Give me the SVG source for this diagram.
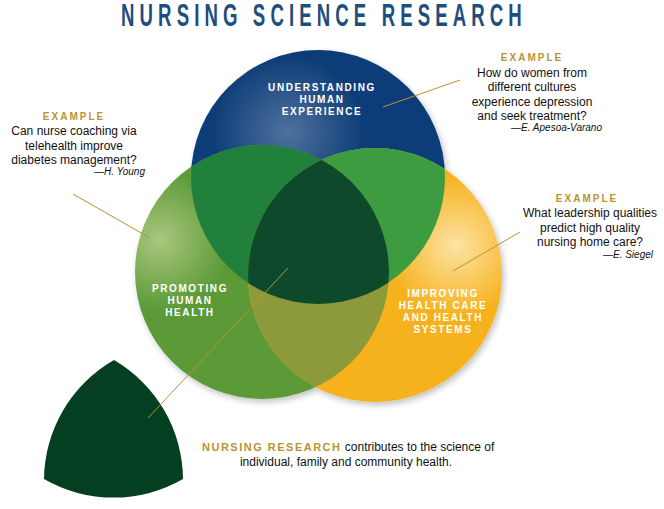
<svg xmlns="http://www.w3.org/2000/svg" width="664" height="509" viewBox="0 0 664 509">
<style>
.ex{font-family:"Liberation Sans",Arial,sans-serif;font-weight:bold;font-size:10px;letter-spacing:2px;fill:#b8952e;text-anchor:middle}
.q{font-family:"Liberation Sans",Arial,sans-serif;font-size:12px;fill:#111;text-anchor:middle}
.by{font-family:"Liberation Sans",Arial,sans-serif;font-size:10px;font-style:italic;fill:#111;text-anchor:end}
.lab{font-family:"Liberation Sans",Arial,sans-serif;font-weight:bold;font-size:10px;letter-spacing:1.6px;fill:#fff;text-anchor:middle}
.con{stroke:#b8952e;stroke-width:1;fill:none}
</style>
<defs>
<radialGradient id="gB" gradientUnits="userSpaceOnUse" cx="288" cy="132" r="75">
<stop offset="0" stop-color="#4f719d"/><stop offset="1" stop-color="#0f3e78"/></radialGradient>
<radialGradient id="gG" gradientUnits="userSpaceOnUse" cx="160" cy="240" r="70">
<stop offset="0" stop-color="#a9c77e"/><stop offset="1" stop-color="#5b9a37"/></radialGradient>
<radialGradient id="gY" gradientUnits="userSpaceOnUse" cx="456" cy="246" r="70">
<stop offset="0" stop-color="#fde3a6"/><stop offset="1" stop-color="#f6b21d"/></radialGradient>
<clipPath id="cB"><circle cx="318" cy="177" r="127"/></clipPath>
<clipPath id="cG"><circle cx="262" cy="272" r="127"/></clipPath>
<clipPath id="cY"><circle cx="375" cy="275" r="127"/></clipPath>
<filter id="sh" x="-20%" y="-20%" width="140%" height="140%"><feGaussianBlur in="SourceAlpha" stdDeviation="3"/><feOffset dx="2" dy="3"/><feComponentTransfer><feFuncA type="linear" slope="0.25"/></feComponentTransfer><feMerge><feMergeNode/><feMergeNode in="SourceGraphic"/></feMerge></filter>
</defs>
<rect width="664" height="509" fill="#fff"/>
<g transform="translate(121,26) scale(0.6,1)">
<text x="0" y="0" textLength="668" lengthAdjust="spacing" font-family="Liberation Sans,Arial,sans-serif" font-weight="bold" font-size="31" fill="#1d4e7d">NURSING SCIENCE RESEARCH</text>
</g>

<g id="venn" filter="url(#sh)">
<g id="node-understanding">
<circle cx="318" cy="177" r="127" fill="url(#gB)"/>
</g>
<g id="node-promoting">
<circle cx="262" cy="272" r="127" fill="url(#gG)"/>
</g>
<g id="node-improving">
<circle cx="375" cy="275" r="127" fill="url(#gY)"/>
</g>
<g id="overlaps">
<circle cx="318" cy="177" r="127" fill="#22803c" clip-path="url(#cG)"/>
<circle cx="318" cy="177" r="127" fill="#3d9b41" clip-path="url(#cY)"/>
<circle cx="262" cy="272" r="127" fill="#8d9a3b" clip-path="url(#cY)"/>
<g clip-path="url(#cY)"><circle cx="262" cy="272" r="127" fill="#0b4a29" clip-path="url(#cB)"/></g>
</g>
</g>
<text class="lab"><tspan x="322" y="91">UNDERSTANDING</tspan><tspan x="322" y="103">HUMAN</tspan><tspan x="322" y="115">EXPERIENCE</tspan></text>
<text class="lab"><tspan x="190" y="292">PROMOTING</tspan><tspan x="190" y="304">HUMAN</tspan><tspan x="190" y="316">HEALTH</tspan></text>
<text class="lab"><tspan x="443" y="297">IMPROVING</tspan><tspan x="443" y="309">HEALTH CARE</tspan><tspan x="443" y="321">AND HEALTH</tspan><tspan x="443" y="333">SYSTEMS</tspan></text>

<g id="node-nursing-research">
<path d="M114,360 A139,139 0 0,1 183,479 A139,139 0 0,1 44,479 A139,139 0 0,1 114,360 Z" fill="#053f22"/>
</g>

<g id="connectors">
<line class="con" x1="460" y1="80" x2="383" y2="107"/>
<line class="con" x1="73" y1="194" x2="150" y2="238"/>
<line class="con" x1="520" y1="232" x2="453" y2="271"/>
<line class="con" x1="288" y1="268" x2="148" y2="418"/>
</g>

<g id="example-top">
<text class="ex" x="532" y="61">EXAMPLE</text>
<text class="q"><tspan x="532" y="77">How do women from</tspan><tspan x="532" y="91">different cultures</tspan><tspan x="532" y="106">experience depression</tspan><tspan x="532" y="120">and seek treatment?</tspan></text>
<text class="by" x="602" y="131">—E. Apesoa-Varano</text>
</g>
<g id="example-left">
<text class="ex" x="74" y="120">EXAMPLE</text>
<text class="q"><tspan x="74" y="135">Can nurse coaching via</tspan><tspan x="74" y="150">telehealth improve</tspan><tspan x="74" y="164">diabetes management?</tspan></text>
<text class="by" x="145" y="175">—H. Young</text>
</g>
<g id="example-right">
<text class="ex" x="587" y="202">EXAMPLE</text>
<text class="q"><tspan x="590" y="217">What leadership qualities</tspan><tspan x="590" y="232">predict high quality</tspan><tspan x="590" y="246">nursing home care?</tspan></text>
<text class="by" x="653" y="258">—E. Siegel</text>
</g>
<g id="caption">
<text x="202" y="451" font-family="Liberation Sans,Arial,sans-serif" font-size="12" fill="#111"><tspan font-weight="bold" font-size="11" letter-spacing="1.5" fill="#b8952e">NURSING RESEARCH</tspan> contributes to the science of</text>
<text class="q" x="346" y="466">individual, family and community health.</text>
</g>
</svg>
